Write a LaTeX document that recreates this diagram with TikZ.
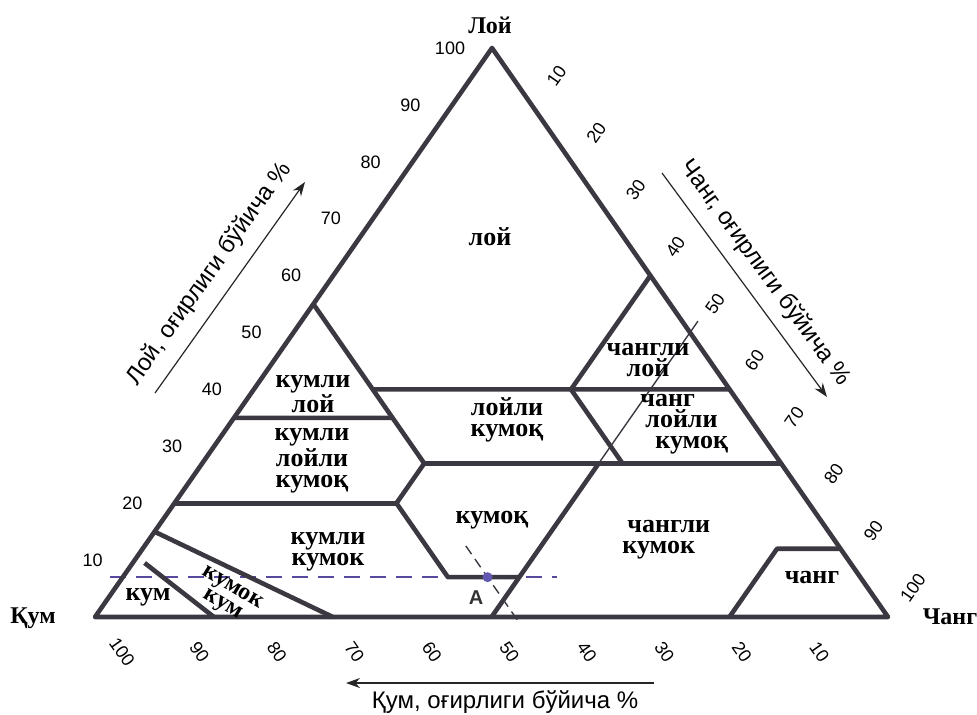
\documentclass[tikz,border=0pt]{standalone}
\usepackage{fontspec}
\setmainfont{Liberation Serif}
\setsansfont{Liberation Sans}
\usetikzlibrary{arrows.meta}

\definecolor{lineGray}{RGB}{60,56,66}
\definecolor{dashViolet}{RGB}{88,72,158}
\definecolor{pointBlue}{RGB}{98,88,178}

\begin{document}
\begin{tikzpicture}[
    x=0.5pt, y=-0.5pt,
    border/.style={draw=lineGray, line width=2.3pt, line join=round},
    guide/.style={draw=lineGray, line width=0.7pt},
    reading/.style={draw=dashViolet, line width=0.8pt, dash pattern=on 8pt off 5pt},
    reading slant/.style={draw=lineGray, line width=0.7pt, dash pattern=on 5pt off 3pt},
    zone/.style={font=\bfseries\fontsize{13}{10.5}\selectfont, align=center, inner sep=0pt},
    corner/.style={font=\bfseries\fontsize{12}{14}\selectfont, inner sep=0pt},
    tick/.style={font=\sffamily\fontsize{9}{10}\selectfont, inner sep=0pt},
    axis title/.style={font=\sffamily\fontsize{12}{14}\selectfont, inner sep=0pt},
    axis arrow/.style={draw=black!85, line width=0.6pt, -{Stealth[length=7pt,width=5pt]}}
    ]
    \useasboundingbox (0,0) rectangle (977,714);

    % corners: sand, silt, clay
    \coordinate (Q) at (95,617);
    \coordinate (C) at (888,617);
    \coordinate (L) at (492,48);

    % boundary points (sand, silt, clay as fractions)
    \coordinate (sc1)  at (barycentric cs:Q=.45,C=0,L=.55);
    \coordinate (sc2)  at (barycentric cs:Q=.45,C=.20,L=.35);
    \coordinate (scl)  at (barycentric cs:Q=.65,C=0,L=.35);
    \coordinate (cl1)  at (barycentric cs:Q=.45,C=.15,L=.40);
    \coordinate (cl2)  at (barycentric cs:Q=.45,C=.28,L=.27);
    \coordinate (c40r) at (barycentric cs:Q=0,C=.60,L=.40);
    \coordinate (sic1) at (barycentric cs:Q=.20,C=.40,L=.40);
    \coordinate (sic2) at (barycentric cs:Q=0,C=.40,L=.60);
    \coordinate (sicl) at (barycentric cs:Q=.20,C=.53,L=.27);
    \coordinate (c27r) at (barycentric cs:Q=0,C=.73,L=.27);
    \coordinate (c20l) at (barycentric cs:Q=.80,C=0,L=.20);
    \coordinate (lo1)  at (barycentric cs:Q=.52,C=.28,L=.20);
    \coordinate (lo2)  at (barycentric cs:Q=.52,C=.41,L=.07);
    \coordinate (lo3)  at (barycentric cs:Q=.43,C=.50,L=.07);
    \coordinate (sil1) at (barycentric cs:Q=.23,C=.50,L=.27);
    \coordinate (sil0) at (barycentric cs:Q=.50,C=.50,L=0);
    \coordinate (sil5) at (barycentric cs:Q=-.02,C=.50,L=.52);
    \coordinate (ls1)  at (barycentric cs:Q=.85,C=0,L=.15);
    \coordinate (ls0)  at (barycentric cs:Q=.70,C=.30,L=0);
    \coordinate (sa1)  at (barycentric cs:Q=.89,C=.015,L=.095);
    \coordinate (sa0)  at (barycentric cs:Q=.85,C=.15,L=0);
    \coordinate (si0)  at (barycentric cs:Q=.20,C=.80,L=0);
    \coordinate (si1)  at (barycentric cs:Q=.08,C=.80,L=.12);
    \coordinate (si2)  at (barycentric cs:Q=0,C=.88,L=.12);

    % point A and its reading lines
    \coordinate (A) at (barycentric cs:Q=.47,C=.46,L=.07);
    \coordinate (dashW) at (110,577);
    \coordinate (dashE) at (557,577);
    \coordinate (slantN) at (barycentric cs:Q=.47,C=.405,L=.125);
    \coordinate (slantS) at (barycentric cs:Q=.47,C=.54,L=-.01);

    \draw[reading] (dashW) -- (dashE);
    \draw[reading slant] (slantN) -- (slantS);
    \draw[guide] (sil1) -- (sil5);

    \draw[border] (Q) -- (C) -- (L) -- cycle;
    \draw[border] (sc1) -- (cl2) -- (lo1) -- (lo2) -- (lo3);
    \draw[border] (sil1) -- (sil0);
    \draw[border] (scl) -- (sc2);
    \draw[border] (cl1) -- (c40r);
    \draw[border] (sic1) -- (sic2);
    \draw[border] (cl2) -- (c27r);
    \draw[border] (sic1) -- (sicl);
    \draw[border] (c20l) -- (lo1);
    \draw[border] (ls1) -- (ls0);
    \draw[border] (sa1) -- (sa0);
    \draw[border] (si0) -- (si1) -- (si2);

    \fill[pointBlue] (A) circle (5);
    \node[font=\sffamily\bfseries\fontsize{10}{12}\selectfont, text=black!80] (Alabel) at (476,598) {A};

    % zone names
    \node[zone] (clay)   at (490,237) {лой};
    \node[zone] (sc)     at (313,394) {кумли\\лой};
    \node[zone] (scloam) at (312,461) {кумли\\лойли\\кумоқ};
    \node[zone] (cloam)  at (507,420) {лойли\\кумоқ};
    \node[zone] (siclay) at (648,360) {чангли\\лой};
    \node[zone, align=left, anchor=west] (sicloam) at (640,424) {чанг\\\hspace*{2.5pt}лойли\\\hspace*{7.5pt}кумоқ};
    \node[zone] (loam)   at (492,520) {кумоқ};
    \node[zone, align=left, anchor=west] (siloam) at (622,540) {\hspace*{2.5pt}чангли\\кумок};
    \node[zone] (sloam)  at (328,552) {кумли\\кумок};
    \node[zone] (sand)   at (148,597) {кум};
    \node[zone, font=\bfseries\fontsize{12}{9.5}\selectfont, rotate=-31] (lsand) at (227,597) {кумок\\кум};
    \node[zone] (silt)   at (812,578) {чанг};

    % corner names
    \node[corner] (top)   at (490,25)  {Лой};
    \node[corner] (left)  at (33,618)  {Қум};
    \node[corner] (right) at (950,617) {Чанг};

    % scales
    \foreach \v in {10,20,...,100}{
      \node[tick] (clay\v) at ({53+3.97*\v},{617-5.69*\v}) {\v};
      \node[tick, rotate=55] (silt\v) at ({517+3.96*\v},{19+5.69*\v}) {\v};
      \node[tick, rotate=-55] (sand\v) at ({122+7.75*(100-\v)},652) {\v};
    }

    % axis titles
    \coordinate (clayA1) at (155,393);
    \coordinate (clayA2) at (305,182);
    \draw[axis arrow] (clayA1) -- (clayA2);
    \node[axis title, rotate=54.6] (clayT) at (209,274) {Лой, оғирлиги бўйича \%};

    \coordinate (siltA1) at (662,173);
    \coordinate (siltA2) at (827,397);
    \draw[axis arrow] (siltA1) -- (siltA2);
    \node[axis title, rotate=-54] (siltT) at (765,273) {Чанг, оғирлиги бўйича \%};

    \coordinate (sandA1) at (654,683);
    \coordinate (sandA2) at (346,683);
    \draw[axis arrow] (sandA1) -- (sandA2);
    \node[axis title] (sandT) at (505,702) {Қум, оғирлиги бўйича \%};
\end{tikzpicture}
\end{document}
